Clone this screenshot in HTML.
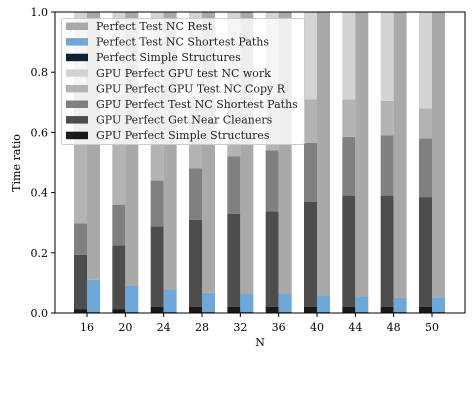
<!DOCTYPE html>
<html><head><meta charset="utf-8"><style>
html,body{margin:0;padding:0;background:#fff;}
svg{display:block;font-family:"DejaVu Serif","Liberation Serif",serif;}
</style></head><body>
<svg id="chart" width="476" height="400" viewBox="0 0 476 400" xmlns="http://www.w3.org/2000/svg">
<g id="bars"></g>
<g id="axes"></g>
<g id="legend"></g>
</svg>
<script>
const categories = ["16","20","24","28","32","36","40","44","48","50"];
// GPU stack (left bar) segment values
const gpuSimple   = [0.013,0.013,0.02,0.02,0.02,0.02,0.02,0.02,0.02,0.02];
const gpuNear     = [0.180,0.212,0.268,0.29,0.31,0.318,0.35,0.37,0.37,0.365];
const gpuShortest = [0.105,0.135,0.152,0.17,0.19,0.202,0.195,0.195,0.20,0.195];
const gpuCopyR    = [0.44,0.37,0.29,0.24,0.20,0.18,0.145,0.125,0.115,0.10];
// Perfect stack (right bar)
const perfSimple   = [0.003,0.003,0.003,0.003,0.003,0.003,0.003,0.003,0.003,0.003];
const perfShortest = [0.107,0.089,0.075,0.064,0.062,0.062,0.055,0.052,0.049,0.049];
const yTicks = [0.0,0.2,0.4,0.6,0.8,1.0];

const NS="http://www.w3.org/2000/svg";
const X0=55,X1=465,Y0=313,Y1=12;
const step=(432-87)/9, first=87, bw=13;
const xc=i=>first+i*step;
const y=v=>Y0-(Y0-Y1)*v;
function mk(tag,attrs,parent){const e=document.createElementNS(NS,tag);for(const k in attrs)e.setAttribute(k,attrs[k]);parent.appendChild(e);return e;}
const bars=document.getElementById('bars'),axes=document.getElementById('axes'),legend=document.getElementById('legend');

const cols={gpuSimple:"#1a1a1a",gpuNear:"#4d4d4d",gpuShortest:"#808080",gpuCopyR:"#b3b3b3",gpuWork:"#d3d3d3",perfSimple:"#0f2233",perfShortest:"#6fa8d8",perfRest:"#a9a9a9"};

categories.forEach((c,i)=>{
  const gpuVals=[gpuSimple[i],gpuNear[i],gpuShortest[i],gpuCopyR[i]];
  const sum=gpuVals.reduce((a,b)=>a+b,0);
  gpuVals.push(Math.max(0,1-sum));
  const gcol=[cols.gpuSimple,cols.gpuNear,cols.gpuShortest,cols.gpuCopyR,cols.gpuWork];
  const gname=['gpu-simple','gpu-near-cleaners','gpu-shortest-paths','gpu-copy-r','gpu-nc-work'];
  let acc=0;
  gpuVals.forEach((v,k)=>{
    const r=mk('rect',{x:xc(i)-bw,y:y(acc+v),width:bw,height:y(acc)-y(acc+v),fill:gcol[k]},bars);
    
    
    acc+=v;
  });
  const pv=[perfSimple[i],perfShortest[i]];
  pv.push(Math.max(0,1-pv[0]-pv[1]));
  const pcol=[cols.perfSimple,cols.perfShortest,cols.perfRest];
  const pname=['perfect-simple','perfect-shortest-paths','perfect-rest'];
  acc=0;
  pv.forEach((v,k)=>{
    const r=mk('rect',{x:xc(i),y:y(acc+v),width:bw,height:y(acc)-y(acc+v),fill:pcol[k]},bars);
    
    
    acc+=v;
  });
  const t=mk('line',{x1:xc(i),x2:xc(i),y1:Y0,y2:Y0+4,stroke:"#000","stroke-width":1},axes);
  
  
  const tl=mk('text',{x:xc(i),y:Y0+18,"text-anchor":"middle","font-size":"11",fill:"#000"},axes);
  tl.textContent=c;
  
  
});
yTicks.forEach(v=>{
  const t=mk('line',{x1:X0-4,x2:X0,y1:y(v),y2:y(v),stroke:"#000","stroke-width":1},axes);
  
  
  const tl=mk('text',{x:X0-7,y:y(v)+4,"text-anchor":"end","font-size":"11",fill:"#000"},axes);
  tl.textContent=v.toFixed(1);
  
  
});
const frame=mk('rect',{x:X0,y:Y1,width:X1-X0,height:Y0-Y1,fill:"none",stroke:"#000","stroke-width":1},axes);


const xt=mk('text',{x:(X0+X1)/2,y:346,"text-anchor":"middle","font-size":"11",fill:"#000"},axes);
xt.textContent="N";


const yt=mk('text',{x:0,y:0,"text-anchor":"middle","font-size":"11",fill:"#000",transform:"translate(20,163) rotate(-90)"},axes);
yt.textContent="Time ratio";



const legItems=[["Perfect Test NC Rest",cols.perfRest],["Perfect Test NC Shortest Paths",cols.perfShortest],["Perfect Simple Structures",cols.perfSimple],["GPU Perfect GPU test NC work",cols.gpuWork],["GPU Perfect GPU Test NC Copy R",cols.gpuCopyR],["GPU Perfect Test NC Shortest Paths",cols.gpuShortest],["GPU Perfect Get Near Cleaners",cols.gpuNear],["GPU Perfect Simple Structures",cols.gpuSimple]];
const lb=mk('rect',{x:61.5,y:18.5,width:243,height:126,rx:2,fill:"#fff","fill-opacity":0.8,stroke:"#ccc","stroke-width":1},legend);


legItems.forEach((it,k)=>{
  const cy=26+k*15.6;
  const sw=mk('rect',{x:66,y:cy-3.5,width:22,height:7.5,fill:it[1]},legend);
  
  
  const tx=mk('text',{x:96,y:cy+4,"font-size":"11",fill:"#222"},legend);
  tx.textContent=it[0];
  
  
});
</script>
</body></html>
